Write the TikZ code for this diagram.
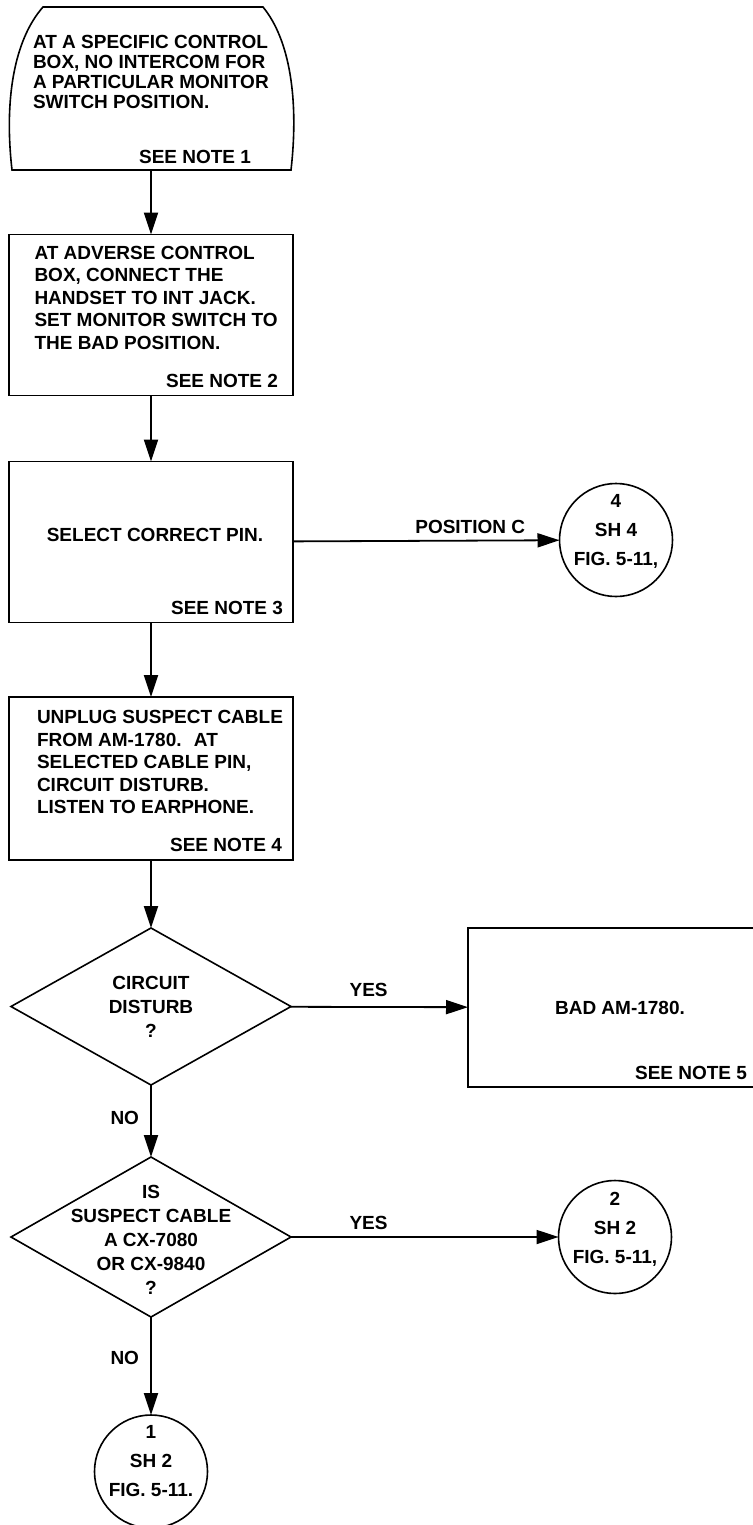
\documentclass[tikz,border=0pt]{standalone}
\usepackage{fontspec}
\setmainfont{Liberation Sans}
\usetikzlibrary{arrows.meta,shapes.geometric}
\begin{document}
\begin{tikzpicture}[x=1pt,y=-1pt,every node/.style={font=\bfseries\fontsize{19}{22.5}\selectfont,inner sep=0pt,outer sep=0pt},box/.style={draw,line width=1.6pt,minimum width=284pt,minimum height=161pt},txt/.style={anchor=north west,align=left},note/.style={anchor=south east},dec/.style={diamond,draw,line width=1.6pt,minimum width=280pt,minimum height=158pt},conn/.style={circle,draw,line width=1.6pt,minimum size=113pt},ctxt/.style={align=center,font=\bfseries\fontsize{19}{29}\selectfont},dtxt/.style={align=center,font=\bfseries\fontsize{19}{24}\selectfont},arr/.style={line width=1.8pt,-{Triangle[length=22pt,width=14pt]}}]
\useasboundingbox (0,0) rectangle (752,1525);
\node[minimum width=284pt,minimum height=163pt] (start) at (151,88.5) {};
\draw[line width=1.6pt] (43,7) -- (263,7) .. controls (290,40) and (299,100) .. (291,170) -- (12,170) .. controls (4,100) and (14,40) .. (43,7) -- cycle;
\node[txt,font=\bfseries\fontsize{19}{20}\selectfont] (startt) at ([xshift=24pt,yshift=-28pt]start.north west) {AT A SPECIFIC CONTROL\\BOX, NO INTERCOM FOR\\A PARTICULAR MONITOR\\SWITCH POSITION.};
\node[note] (startn) at ([xshift=-42pt,yshift=6pt]start.south east) {SEE NOTE 1};
\node[box] (adv) at (151,315) {};
\node[txt] (advt) at ([xshift=25.5pt,yshift=-11.5pt]adv.north west) {AT ADVERSE CONTROL\\BOX, CONNECT THE\\HANDSET TO INT JACK.\\SET MONITOR SWITCH TO\\THE BAD POSITION.};
\node[note] (advn) at ([xshift=-15pt,yshift=8pt]adv.south east) {SEE NOTE 2};
\node[box] (pin) at (151,542) {};
\node (pint) at ([xshift=4pt,yshift=7pt]pin.center) {SELECT CORRECT PIN.};
\node[note] (pinn) at ([xshift=-10pt,yshift=8pt]pin.south east) {SEE NOTE 3};
\node[box,minimum height=163pt] (unplug) at (151,778.5) {};
\node[txt] (unplugt) at ([xshift=28pt,yshift=-13.5pt]unplug.north west) {UNPLUG SUSPECT CABLE\\FROM AM-1780.~ AT\\SELECTED CABLE PIN,\\CIRCUIT DISTURB.\\LISTEN TO EARPHONE.};
\node[note] (unplugn) at ([xshift=-11pt,yshift=8.5pt]unplug.south east) {SEE NOTE 4};
\node[dec,minimum height=157pt] (dist) at (151,1006.5) {};
\node[dtxt] (distt) at (dist) {CIRCUIT\\DISTURB\\?};
\node[box,minimum width=296pt,minimum height=159pt] (bad) at (616,1007.5) {};
\node (badt) at ([xshift=4pt]bad.center) {BAD AM-1780.};
\node[note] (badn) at ([xshift=-17pt,yshift=7pt]bad.south east) {SEE NOTE 5};
\node[dec,minimum height=160pt] (cable) at (151,1237) {};
\node[dtxt] (cablet) at ([yshift=-3pt]cable.center) {IS\\SUSPECT CABLE\\A CX-7080\\OR CX-9840\\?};
\node[conn] (sh4) at (616,540) {};
\node[ctxt] (sh4t) at ([yshift=9pt]sh4.center) {4\\SH 4\\FIG. 5-11,};
\node[conn] (sh2b) at (615,1237) {};
\node[ctxt] (sh2bt) at ([yshift=8pt]sh2b.center) {2\\SH 2\\FIG. 5-11,};
\node[conn] (sh2a) at (151,1471.5) {};
\node[ctxt] (sh2at) at ([yshift=10pt]sh2a.center) {1\\SH 2\\FIG. 5-11.};
\draw[arr](start)--(adv);\draw[arr](adv)--(pin);\draw[arr](pin)--node[above=7pt,pos=0.665](posc){POSITION C}(sh4);\draw[arr](pin)--(unplug);\draw[arr](unplug)--(dist);
\draw[arr](dist)--node[above=10pt,pos=0.44](yes1){YES}(bad);\draw[arr](dist)--node[left=12pt,pos=0.46](no1){NO}(cable);
\draw[arr](cable)--node[above=7pt,pos=0.29](yes2){YES}(sh2b);\draw[arr](cable)--node[left=12pt,pos=0.42](no2){NO}(sh2a);
\end{tikzpicture}
\end{document}
